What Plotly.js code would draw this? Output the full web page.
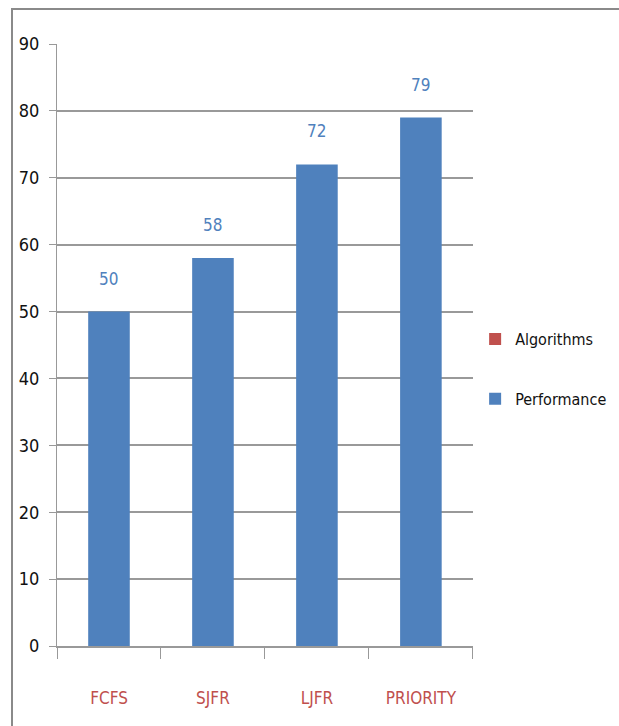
<!DOCTYPE html>
<html>
<head>
<meta charset="utf-8">
<script src="https://cdn.plot.ly/plotly-3.0.1.min.js"></script>
<style>
  html, body { margin: 0; padding: 0; background: #fff; }
  #wrap { position: relative; width: 619px; height: 726px; overflow: hidden; }
  #chart { width: 619px; height: 726px; }
  #frame { position: absolute; left: 11px; top: 8px; width: 700px; height: 800px;
           border: 2px solid #8a8a8a; pointer-events: none; box-sizing: border-box; }
</style>
</head>
<body>
<div id="wrap">
  <div id="chart"></div>
  <div id="frame"></div>
</div>
<script>
const categories = ["FCFS", "SJFR", "LJFR", "PRIORITY"];
const performance = [50, 58, 72, 79];
const algorithms = [null, null, null, null];
const yTicks = [0, 10, 20, 30, 40, 50, 60, 70, 80, 90];

const FONT = '"DejaVu Sans Condensed", "Liberation Sans Narrow", Arial, sans-serif';
const BLUE = '#4F81BD';
const RED = '#C0504D';

const traces = [
  { type: 'bar', name: 'Algorithms', x: categories, y: algorithms,
    marker: { color: RED }, legendgroup: 'a', hoverinfo: 'skip' },
  { type: 'bar', name: 'Performance', x: categories, y: performance,
    marker: { color: BLUE }, legendgroup: 'p' }
];

const annotations = categories.map((c, i) => ({
  x: c, y: performance[i], xref: 'x', yref: 'y',
  text: String(performance[i]), showarrow: false, yshift: 33,
  font: { family: FONT, size: 17, color: BLUE }
}));

const layout = {
  width: 619, height: 726,
  margin: { l: 57, r: 0, t: 44, b: 80 },
  paper_bgcolor: '#fff', plot_bgcolor: '#fff',
  barmode: 'overlay', bargap: 0.6,
  showlegend: true,
  legend: { x: 0.744, xanchor: 'left', y: 0.538, yanchor: 'top',
            font: { family: FONT, size: 16, color: '#111' },
            traceorder: 'grouped', tracegroupgap: 36, itemwidth: 30 },
  xaxis: { type: 'category', domain: [0, 0.740], showgrid: false, showline: true, linecolor: '#999', linewidth: 2,
           ticks: 'outside', tickson: 'boundaries', ticklen: 11, tickcolor: '#999', tickwidth: 1,
           ticklabelstandoff: 36,
           tickfont: { family: FONT, size: 17, color: RED }, fixedrange: true },
  yaxis: { range: [0, 90], tickvals: yTicks, showgrid: true, gridcolor: '#999', gridwidth: 2,
           showline: true, linecolor: '#999', linewidth: 1, zeroline: false,
           ticks: 'outside', ticklen: 7, tickcolor: '#999', ticklabelstandoff: 6,
           tickfont: { family: FONT, size: 18, color: '#111' }, fixedrange: true },
  annotations: annotations
};

Plotly.newPlot('chart', traces, layout, { displayModeBar: false, staticPlot: true });
</script>
</body>
</html>
